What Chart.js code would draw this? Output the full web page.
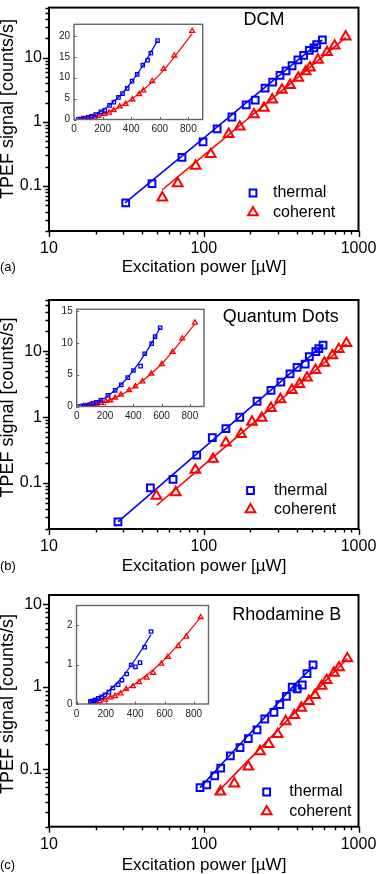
<!DOCTYPE html>
<html><head><meta charset="utf-8">
<script src="https://cdn.jsdelivr.net/npm/chart.js@4.4.1/dist/chart.umd.min.js"></script>
<style>
html,body{margin:0;padding:0;background:#fff;}
body{width:376px;height:874px;position:relative;overflow:hidden;}
canvas{position:absolute;}
</style></head><body>
<script>
// ---------------- data ----------------
// (a) DCM
const dcmThermalPower   = [31.3, 46.3, 72.3, 98.9, 122, 152, 188, 215, 249, 279, 311, 340, 372, 406, 442, 481, 515, 537, 584];
const dcmThermalSignal  = [0.055, 0.109, 0.28, 0.488, 0.78, 1.19, 1.84, 2.17, 3.36, 4.14, 5.28, 6.21, 7.47, 9.2, 10.8, 13.0, 14.2, 15.9, 18.9];
const dcmCoherentPower  = [54, 67.9, 88.7, 111, 145, 171, 211, 245, 277, 320, 361, 408, 456, 486, 547, 626, 701, 826];
const dcmCoherentSignal = [0.066, 0.11, 0.206, 0.313, 0.643, 0.838, 1.30, 1.64, 2.21, 3.14, 3.73, 4.82, 6.06, 6.97, 9.2, 12.1, 15.3, 21.2];
const dcmThermalFitPower   = [31, 100, 200, 300, 400, 500, 584];
const dcmThermalFitSignal  = [0.055, 0.56, 2.23, 5.01, 8.9, 13.9, 18.9];
const dcmCoherentFitPower  = [54, 100, 200, 300, 400, 600, 826];
const dcmCoherentFitSignal = [0.0877, 0.301, 1.20, 2.71, 4.81, 10.8, 20.5];
// (b) Quantum Dots
const qdThermalPower   = [27.9, 45.2, 63.3, 90.1, 113.6, 139, 171, 221, 272, 315, 361, 401, 452, 481, 530, 554, 590];
const qdThermalSignal  = [0.0257, 0.084, 0.113, 0.265, 0.489, 0.669, 0.995, 1.74, 2.55, 3.40, 4.54, 5.67, 6.36, 8.3, 9.9, 11.0, 12.4];
const qdCoherentPower  = [49.4, 65.9, 88.2, 114.8, 139, 174, 205, 237, 272, 313, 371, 415, 465, 527, 602, 678, 746, 836];
const qdCoherentSignal = [0.0636, 0.072, 0.157, 0.231, 0.407, 0.55, 0.845, 0.97, 1.37, 1.86, 2.57, 3.17, 3.95, 5.16, 6.66, 8.6, 10.7, 13.2];
const qdThermalFitPower   = [27.9, 50, 100, 200, 300, 400, 500, 590];
const qdThermalFitSignal  = [0.0257, 0.0838, 0.341, 1.39, 3.15, 5.65, 8.87, 12.4];
const qdCoherentFitPower  = [49.7, 100, 200, 300, 400, 600, 836];
const qdCoherentFitSignal = [0.0459, 0.186, 0.743, 1.67, 2.97, 6.69, 13.0];
// (c) Rhodamine B
const rbThermalPower   = [94.6, 104.5, 117.7, 128.7, 148.5, 171.5, 194, 221, 248, 284, 310, 342, 373, 402, 433, 465, 508];
const rbThermalSignal  = [0.0596, 0.0643, 0.0829, 0.103, 0.1445, 0.1825, 0.235, 0.30, 0.406, 0.49, 0.608, 0.762, 0.99, 0.944, 1.05, 1.44, 1.84];
const rbCoherentPower  = [128, 157.6, 194, 231, 263, 300.6, 338, 385, 427, 478, 523, 578, 623, 694, 749, 847];
const rbCoherentSignal = [0.0532, 0.0667, 0.107, 0.1644, 0.2005, 0.265, 0.38, 0.45, 0.553, 0.668, 0.791, 1.02, 1.197, 1.47, 1.71, 2.20];
const rbThermalFitPower   = [94.6, 150, 200, 300, 400, 508];
const rbThermalFitSignal  = [0.0596, 0.1526, 0.2746, 0.628, 1.13, 1.76];
const rbCoherentFitPower  = [120, 200, 300, 400, 600, 847];
const rbCoherentFitSignal = [0.0504, 0.135, 0.296, 0.516, 1.13, 2.2];

// ---------------- ticks & labels ----------------
const mainXTicks = [10, 100, 1000];
const mainXTickLabels = ['10', '100', '1000'];
const mainYTicks = [0.1, 1, 10];
const mainYTickLabels = ['0.1', '1', '10'];
const insetXTicks = [0, 200, 400, 600, 800];
const dcmInsetYTicks = [0, 5, 10, 15, 20];
const qdInsetYTicks = [0, 5, 10, 15];
const rbInsetYTicks = [0, 1, 2];
const panelTags = ['(a)', '(b)', '(c)'];
const sampleNames = ['DCM', 'Quantum Dots', 'Rhodamine B'];
const seriesNames = ['thermal', 'coherent'];
const xTitle = 'Excitation power [\u00B5W]';
const yTitle = 'TPEF signal [counts/s]';

// ---------------- drawing ----------------
const BLUE = '#0000ff', RED = '#ff0000';
const FONT = "'Liberation Sans', Arial, Helvetica, sans-serif";
Chart.defaults.font.family = FONT;
Chart.defaults.color = '#000';

function pairs(xs, ys) { return xs.map((x, i) => ({x: x, y: ys[i]})); }
function place(b) {
  const c = document.createElement('canvas');
  c.width = b.w; c.height = b.h;
  c.style.left = b.x + 'px'; c.style.top = b.y + 'px';
  c.style.width = b.w + 'px'; c.style.height = b.h + 'px';
  document.body.appendChild(c);
  return c;
}
function marker(ctx, style, x, y, r, color, lw) {
  ctx.save();
  ctx.strokeStyle = color; ctx.lineWidth = lw;
  ctx.beginPath();
  if (style === 'rect') {
    const s = r * Math.SQRT1_2;
    ctx.rect(x - s, y - s, 2 * s, 2 * s);
  } else {
    ctx.moveTo(x, y - r);
    ctx.lineTo(x + r * 0.8660254, y + r * 0.5);
    ctx.lineTo(x - r * 0.8660254, y + r * 0.5);
    ctx.closePath();
  }
  ctx.stroke();
  ctx.restore();
}
function logTickValues(min, max) {
  const out = [];
  for (let k = Math.floor(Math.log10(min)); k <= Math.ceil(Math.log10(max)); k++) {
    for (let m = 1; m <= 9; m++) {
      const v = m * Math.pow(10, k);
      if (v >= min * 0.999 && v <= max * 1.001) out.push({v: v, major: m === 1});
    }
  }
  return out;
}

function mainChart(p) {
  const b = p.box, a = p.area;
  const c = place(b);
  const decor = {
    id: 'decor',
    afterDraw(chart) {
      const ctx = chart.ctx, ca = chart.chartArea, xs = chart.scales.x, ys = chart.scales.y;
      ctx.save();
      ctx.strokeStyle = '#000';
      ctx.lineWidth = 1.4;
      ctx.beginPath();
      logTickValues(xs.min, xs.max).forEach(t => {
        const px = Math.round(xs.getPixelForValue(t.v)) + 0.5;
        ctx.moveTo(px, ca.bottom); ctx.lineTo(px, ca.bottom + (t.major ? 6 : 3.5));
      });
      logTickValues(ys.min, ys.max).forEach(t => {
        const py = Math.round(ys.getPixelForValue(t.v)) + 0.5;
        ctx.moveTo(ca.left, py); ctx.lineTo(ca.left - (t.major ? 6 : 3.5), py);
      });
      ctx.stroke();
      ctx.lineWidth = 2;
      ctx.strokeRect(ca.left, ca.top, ca.right - ca.left, ca.bottom - ca.top);
      // texts
      ctx.fillStyle = '#000';
      ctx.textBaseline = 'middle';
      ctx.font = '18px ' + FONT;
      ctx.textAlign = 'center';
      ctx.fillText(p.name, p.nameX, p.nameY - b.y);
      ctx.font = '17px ' + FONT;
      ctx.fillText(xTitle, 204, p.xTitleY - b.y);
      ctx.font = '13px ' + FONT;
      ctx.textAlign = 'left';
      ctx.fillText(p.tag, 0, p.xTitleY - b.y);
      ctx.save();
      ctx.translate(8, p.yTitleY - b.y);
      ctx.rotate(-Math.PI / 2);
      ctx.font = '18px ' + FONT;
      ctx.textAlign = 'center';
      ctx.fillText(yTitle, 0, 0);
      ctx.restore();
      // legend
      const L = p.legend;
      marker(ctx, 'rect', L.mx, L.y1 - b.y, 4.8, BLUE, 2);
      marker(ctx, 'triangle', L.mx, L.y2 - b.y + 1, 5.6, RED, 2);
      ctx.font = '16px ' + FONT;
      ctx.textAlign = 'left';
      ctx.fillText(seriesNames[0], L.tx, L.y1 - b.y);
      ctx.fillText(seriesNames[1], L.tx, L.y2 - b.y + 1);
      ctx.restore();
    }
  };
  return new Chart(c, {
    type: 'scatter',
    data: {datasets: [
      {label: seriesNames[0], data: pairs(p.tx, p.ty), pointStyle: 'rect', pointRadius: 4.8,
       pointBorderWidth: 2, borderColor: BLUE, backgroundColor: 'rgba(0,0,0,0)', showLine: false},
      {label: seriesNames[1], data: pairs(p.cx, p.cy), pointStyle: 'triangle', pointRadius: 5.6,
       pointBorderWidth: 2, borderColor: RED, backgroundColor: 'rgba(0,0,0,0)', showLine: false},
      {label: seriesNames[0] + ' fit', data: pairs(p.tfx, p.tfy), showLine: true, pointRadius: 0,
       borderColor: BLUE, borderWidth: 1.6, tension: 0},
      {label: seriesNames[1] + ' fit', data: pairs(p.cfx, p.cfy), showLine: true, pointRadius: 0,
       borderColor: RED, borderWidth: 1.6, tension: 0}
    ]},
    options: {
      responsive: false, animation: false, events: [],
      layout: {padding: {left: 0, top: a.t - b.y, right: b.x + b.w - a.r, bottom: 0}},
      plugins: {legend: {display: false}, tooltip: {enabled: false}},
      scales: {
        x: {type: 'logarithmic', position: 'bottom', min: 10, max: 1000,
            grid: {display: false, drawTicks: false}, border: {display: false},
            afterBuildTicks: s => { s.ticks = mainXTicks.map(v => ({value: v})); },
            ticks: {autoSkip: false, maxRotation: 0, padding: 8, font: {size: 16},
                    callback: (v, i) => mainXTickLabels[i]},
            afterFit: s => { s.height = b.y + b.h - a.b; s.paddingLeft = 0; s.paddingRight = 0; }},
        y: {type: 'logarithmic', position: 'left', min: p.yMin, max: p.yMax,
            grid: {display: false, drawTicks: false}, border: {display: false},
            afterBuildTicks: s => { s.ticks = mainYTicks.map(v => ({value: v})); },
            ticks: {autoSkip: false, padding: 7, font: {size: 16},
                    callback: (v, i) => mainYTickLabels[i]},
            afterFit: s => { s.width = a.l - b.x; s.paddingTop = 0; s.paddingBottom = 0; }}
      }
    },
    plugins: [decor]
  });
}

function insetChart(p) {
  const b = p.box, a = p.area;
  const c = place(b);
  const decor = {
    id: 'idecor',
    beforeDatasetsDraw(chart) {
      const ctx = chart.ctx, ca = chart.chartArea;
      ctx.save(); ctx.fillStyle = '#fff';
      ctx.fillRect(ca.left, ca.top, ca.right - ca.left, ca.bottom - ca.top);
      ctx.restore();
    },
    afterDraw(chart) {
      const ctx = chart.ctx, ca = chart.chartArea, xs = chart.scales.x, ys = chart.scales.y;
      ctx.save();
      ctx.strokeStyle = '#666';
      ctx.lineWidth = 1;
      ctx.beginPath();
      insetXTicks.forEach(v => { const px = Math.round(xs.getPixelForValue(v)) + 0.5;
        ctx.moveTo(px, ca.bottom); ctx.lineTo(px, ca.bottom - 2.5); });
      p.yTicks.forEach(v => { const py = Math.round(ys.getPixelForValue(v)) + 0.5;
        ctx.moveTo(ca.left, py); ctx.lineTo(ca.left + 2.5, py); });
      ctx.stroke();
      ctx.lineWidth = 1.4;
      ctx.strokeRect(ca.left, ca.top, ca.right - ca.left, ca.bottom - ca.top);
      ctx.restore();
    }
  };
  return new Chart(c, {
    type: 'scatter',
    data: {datasets: [
      {label: seriesNames[0], data: pairs(p.tx, p.ty), pointStyle: 'rect', pointRadius: 2.4,
       pointBorderWidth: 1.3, borderColor: BLUE, backgroundColor: 'rgba(0,0,0,0)', showLine: false},
      {label: seriesNames[1], data: pairs(p.cx, p.cy), pointStyle: 'triangle', pointRadius: 2.8,
       pointBorderWidth: 1.3, borderColor: RED, backgroundColor: 'rgba(0,0,0,0)', showLine: false},
      {label: seriesNames[0] + ' fit', data: pairs(p.tfx, p.tfy), showLine: true, pointRadius: 0,
       borderColor: BLUE, borderWidth: 1.2, cubicInterpolationMode: 'monotone'},
      {label: seriesNames[1] + ' fit', data: pairs(p.cfx, p.cfy), showLine: true, pointRadius: 0,
       borderColor: RED, borderWidth: 1.2, cubicInterpolationMode: 'monotone'}
    ]},
    options: {
      responsive: false, animation: false, events: [],
      layout: {padding: {left: 0, top: a.t - b.y, right: b.x + b.w - a.r, bottom: 0}},
      plugins: {legend: {display: false}, tooltip: {enabled: false}},
      scales: {
        x: {type: 'linear', min: 0, max: 900,
            grid: {display: false, drawTicks: false}, border: {display: false},
            afterBuildTicks: s => { s.ticks = insetXTicks.map(v => ({value: v})); },
            ticks: {autoSkip: false, maxRotation: 0, padding: 4, font: {size: 10}, color: '#222',
                    callback: v => String(v)},
            afterFit: s => { s.height = b.y + b.h - a.b; s.paddingLeft = 0; s.paddingRight = 0; }},
        y: {type: 'linear', min: 0, max: p.yMax,
            grid: {display: false, drawTicks: false}, border: {display: false},
            afterBuildTicks: s => { s.ticks = p.yTicks.map(v => ({value: v})); },
            ticks: {autoSkip: false, padding: 4, font: {size: 10}, color: '#222',
                    callback: v => String(v)},
            afterFit: s => { s.width = a.l - b.x; s.paddingTop = 0; s.paddingBottom = 0; }}
      }
    },
    plugins: [decor]
  });
}

const dcmSets = {tx: dcmThermalPower, ty: dcmThermalSignal, cx: dcmCoherentPower, cy: dcmCoherentSignal,
  tfx: dcmThermalFitPower, tfy: dcmThermalFitSignal, cfx: dcmCoherentFitPower, cfy: dcmCoherentFitSignal};
const qdSets = {tx: qdThermalPower, ty: qdThermalSignal, cx: qdCoherentPower, cy: qdCoherentSignal,
  tfx: qdThermalFitPower, tfy: qdThermalFitSignal, cfx: qdCoherentFitPower, cfy: qdCoherentFitSignal};
const rbSets = {tx: rbThermalPower, ty: rbThermalSignal, cx: rbCoherentPower, cy: rbCoherentSignal,
  tfx: rbThermalFitPower, tfy: rbThermalFitSignal, cfx: rbCoherentFitPower, cfy: rbCoherentFitSignal};

mainChart(Object.assign({}, dcmSets, {
  box: {x: 0, y: 0, w: 376, h: 290}, area: {l: 49, t: 1, r: 358.5, b: 231},
  yMin: 0.02, yMax: 60, name: sampleNames[0], nameX: 264, nameY: 20, tag: panelTags[0],
  xTitleY: 267, yTitleY: 109, legend: {mx: 253, tx: 273, y1: 193, y2: 211.5}}));
mainChart(Object.assign({}, qdSets, {
  box: {x: 0, y: 290, w: 376, h: 290}, area: {l: 49, t: 300, r: 358.5, b: 529},
  yMin: 0.02, yMax: 60, name: sampleNames[1], nameX: 280.7, nameY: 316.7, tag: panelTags[1],
  xTitleY: 566.7, yTitleY: 407.5, legend: {mx: 250.5, tx: 274, y1: 490.5, y2: 508.5}}));
mainChart(Object.assign({}, rbSets, {
  box: {x: 0, y: 580, w: 376, h: 294}, area: {l: 49, t: 595, r: 358.5, b: 826.7},
  yMin: 0.02, yMax: 13, name: sampleNames[2], nameX: 286.7, nameY: 615, tag: panelTags[2],
  xTitleY: 865, yTitleY: 704, legend: {mx: 266.7, tx: 289.3, y1: 792, y2: 810.5}}));

insetChart(Object.assign({}, dcmSets, {
  box: {x: 48, y: 14, w: 168, h: 124}, area: {l: 74, t: 24.3, r: 202.7, b: 119.5},
  yMax: 22.8, yTicks: dcmInsetYTicks}));
insetChart(Object.assign({}, qdSets, {
  box: {x: 48, y: 300, w: 168, h: 124}, area: {l: 76.7, t: 309.3, r: 204, b: 406.5},
  yMax: 15.3, yTicks: qdInsetYTicks}));
insetChart(Object.assign({}, rbSets, {
  box: {x: 48, y: 596, w: 172, h: 124}, area: {l: 76.5, t: 605.5, r: 208.5, b: 704},
  yMax: 2.5, yTicks: rbInsetYTicks}));
</script>
</body></html>
